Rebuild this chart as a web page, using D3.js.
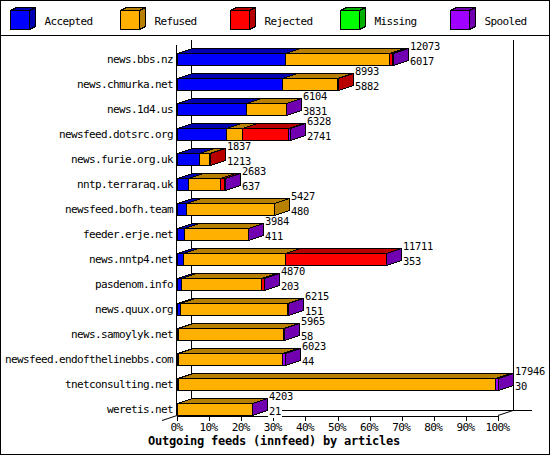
<!DOCTYPE html>
<html>
<head>
<meta charset="utf-8">
<script src="https://cdn.jsdelivr.net/npm/d3@7"></script>
<style>
  body { margin: 0; background: #fff; }
  text { font-family: "DejaVu Sans Mono", monospace; font-size: 11px; letter-spacing: -0.62px; fill: #000; }
  .value { font-size: 10.4px; letter-spacing: -0.25px; }
  .title { font-weight: bold; font-size: 12px; letter-spacing: -0.22px; }
</style>
</head>
<body>
<div id="chart"></div>
<script>
// Data
const feeds = ["news.bbs.nz", "news.chmurka.net", "news.1d4.us", "newsfeed.dotsrc.org", "news.furie.org.uk",
  "nntp.terraraq.uk", "newsfeed.bofh.team", "feeder.erje.net", "news.nntp4.net", "pasdenom.info",
  "news.quux.org", "news.samoylyk.net", "newsfeed.endofthelinebbs.com", "tnetconsulting.net", "weretis.net"];
const totals   = [12073, 8993, 6104, 6328, 1837, 2683, 5427, 3984, 11711, 4870, 6215, 5965, 6023, 17946, 4203];
const accepted = [6017, 5882, 3831, 2741, 1213, 637, 480, 411, 353, 203, 151, 58, 44, 30, 21];
const refused  = [5860, 3040, 2250, 900, 580, 1790, 4947, 3540, 5680, 4520, 5990, 5870, 5800, 17760, 4160];
const rejected = [140, 71, 0, 2590, 44, 220, 0, 0, 5640, 120, 0, 0, 0, 0, 0];
const missing  = [0, 0, 0, 0, 0, 0, 0, 0, 0, 0, 0, 0, 0, 0, 0];
const spooled  = [56, 0, 23, 97, 0, 36, 0, 33, 38, 27, 74, 37, 179, 156, 22];

const seriesNames = ["Accepted", "Refused", "Rejected", "Missing", "Spooled"];
const series = [accepted, refused, rejected, missing, spooled];
const frontColors = ["#0000ff", "#ffb000", "#ff0000", "#00ff00", "#a000ff"];
const shadeColors = ["#0000b0", "#b88000", "#b80000", "#00b000", "#7000b0"];

const width = 550, height = 455;
const dx = 15, dy = 5;              // 3D depth of the plot
const plot = { left: 177, right: 498, top: 40, bottom: 415 };

const svg = d3.select("#chart").append("svg")
  .attr("width", width).attr("height", height)
  .attr("shape-rendering", "crispEdges");

// outer frame and legend separator
svg.append("rect").attr("x", 0.5).attr("y", 0.5).attr("width", width - 1).attr("height", height - 1)
  .attr("fill", "#fff").attr("stroke", "#000");
svg.append("line").attr("x1", 0).attr("x2", width).attr("y1", 35.5).attr("y2", 35.5).attr("stroke", "#000");

// scales
const maxTotal = d3.max(totals);
const x = d3.scaleLinear().domain([0, 1]).range([plot.left, plot.right]);
const y = d3.scaleBand().domain(feeds).range([plot.top, plot.bottom]);

// draw a 3D box: front, top, side
function box3d(g, x0, x1, yTop, h, front, shade, d) {
  const sx = d[0], sy = d[1];
  g.append("rect").attr("x", x0).attr("y", yTop).attr("width", Math.max(x1 - x0, 0)).attr("height", h)
    .attr("fill", front).attr("stroke", "#000");
  g.append("polygon")
    .attr("points", [[x0, yTop], [x1, yTop], [x1 + sx, yTop - sy], [x0 + sx, yTop - sy]].join(" "))
    .attr("fill", shade).attr("stroke", "#000");
  g.append("polygon")
    .attr("points", [[x1, yTop], [x1 + sx, yTop - sy], [x1 + sx, yTop + h - sy], [x1, yTop + h]].join(" "))
    .attr("fill", shade).attr("stroke", "#000");
}

// legend
const legend = svg.append("g");
seriesNames.forEach((name, i) => {
  const lx = 10.5 + i * 110;
  box3d(legend, lx, lx + 19, 10.5, 19, frontColors[i], shadeColors[i], [6, 3]);
  legend.append("text").attr("x", lx + 34).attr("y", 25).text(name);
});

// walls and floor
const walls = svg.append("g").attr("stroke", "#000");
walls.append("line").attr("x1", plot.left - 0.5 + dx).attr("x2", plot.left - 0.5 + dx)
  .attr("y1", plot.top).attr("y2", plot.bottom - dy);
walls.append("line").attr("x1", plot.right + dx + 0.5).attr("x2", plot.right + dx + 0.5)
  .attr("y1", plot.top).attr("y2", plot.bottom - dy);
walls.append("line").attr("x1", plot.left + dx).attr("x2", plot.right + dx + 19)
  .attr("y1", plot.bottom - dy + 0.5).attr("y2", plot.bottom - dy + 0.5);
walls.append("line").attr("x1", plot.left - 0.5).attr("x2", plot.left - 0.5)
  .attr("y1", plot.top + dy).attr("y2", plot.bottom);
walls.append("line").attr("shape-rendering", "auto")
  .attr("x1", plot.right).attr("y1", plot.bottom + 0.5).attr("x2", plot.right + dx).attr("y2", plot.bottom - dy + 0.5);
walls.append("line").attr("shape-rendering", "auto")
  .attr("x1", plot.left - dx).attr("y1", plot.bottom + dy + 0.5).attr("x2", plot.left).attr("y2", plot.bottom + 0.5);

// x axis
const axis = svg.append("g").attr("transform", `translate(0, ${plot.bottom + 0.5})`)
  .call(d3.axisBottom(x).ticks(10).tickFormat(d3.format(".0%")).tickSize(5).tickSizeOuter(0).tickPadding(3));
axis.select(".domain").attr("stroke", "#000");
axis.selectAll(".tick line").attr("stroke", "#000");
axis.selectAll("text").attr("font-family", null).attr("font-size", null).attr("x", -1);

// bars
const bars = svg.append("g");
feeds.forEach((feed, i) => {
  const yTop = y(feed) + 13.5, h = 12;
  let cum = 0;
  series.forEach((s, k) => {
    const v = s[i];
    if (!v) return;
    const x0 = x(cum / maxTotal);
    cum += v;
    const x1 = x(cum / maxTotal);
    box3d(bars, Math.round(x0) + 0.5, Math.round(x1) + 0.5, yTop, h, frontColors[k], shadeColors[k], [dx, dy]);
  });

  // category label
  svg.append("text").attr("x", 173).attr("y", y(feed) + 22.5).attr("text-anchor", "end").text(feed);

  // value labels: total on top, accepted below
  const lx = Math.round(x(totals[i] / maxTotal)) + dx + 2;
  [[totals[i], 9.5], [accepted[i], 24.5]].forEach(([val, off]) => {
    const t = String(val);
    svg.append("rect").attr("x", lx - 1).attr("y", y(feed) + off - 9)
      .attr("width", t.length * 6 + 2).attr("height", 12).attr("fill", "#fff");
    svg.append("text").attr("class", "value").attr("x", lx).attr("y", y(feed) + off).text(t);
  });
});

// title
svg.append("text").attr("class", "title").attr("x", width / 2 - 1).attr("y", 445)
  .attr("text-anchor", "middle").text("Outgoing feeds (innfeed) by articles");
</script>
</body>
</html>
